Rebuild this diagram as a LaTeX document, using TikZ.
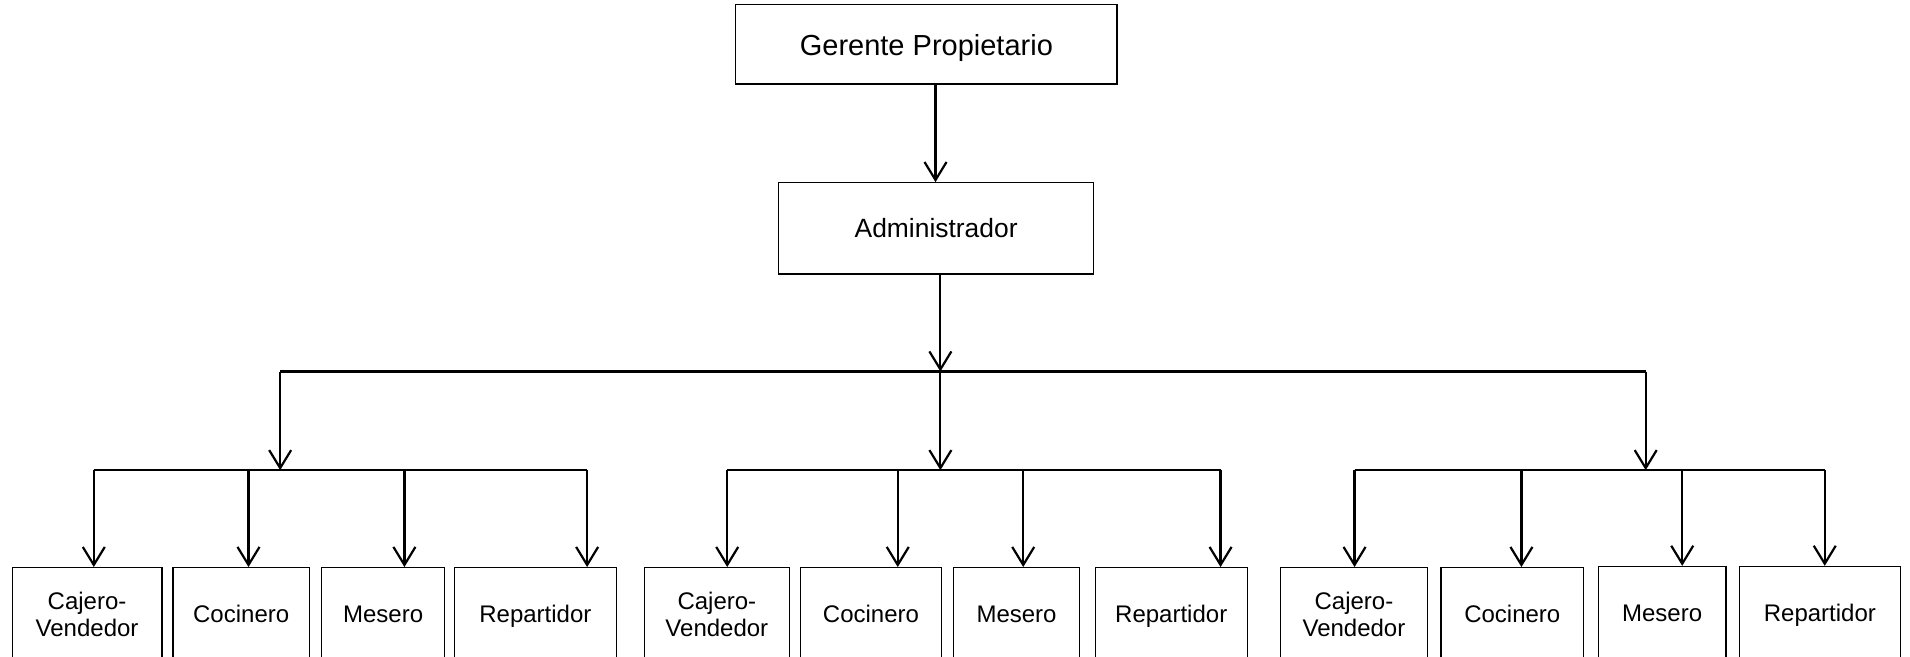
\documentclass[tikz,border=0pt]{standalone}
\usepackage{fontspec}
\setmainfont{Liberation Sans}
\usetikzlibrary{arrows.meta}
\def\ux{0.609pt}
\tikzset{
  x=0.609pt, y=-0.609pt,
  bx/.style={draw, line width=0.6pt, inner sep=0pt, align=center,
    minimum width=#1*\ux, minimum height=76*\ux,
    font=\fontsize{12}{13.5}\selectfont},
  one/.style={text height=11.6pt, text depth=3pt},
  link/.style={line width=1.1pt},
  arr/.style={line width=1.1pt, -{Straight Barb[length=9pt,width=11pt]}}
}
\begin{document}
\begin{tikzpicture}
\useasboundingbox (0,0) rectangle (1568,539);
\clip (0,0) rectangle (1568,539);
% top boxes
\node[draw, line width=0.6pt, minimum width=313*\ux, minimum height=65*\ux,
  text height=14.4pt, text depth=3pt,
  font=\fontsize{14.5}{16}\selectfont] (g) at (760.5,36.5) {Gerente Propietario};
\node[draw, line width=0.6pt, minimum width=259*\ux, minimum height=75*\ux,
  text height=12.45pt, text depth=3pt,
  font=\fontsize{13.2}{15}\selectfont] (a) at (768.5,187.5) {Administrador};
% bottom boxes
\node[bx=123] (cj1) at (71.5,504) {Cajero-\\Vendedor};
\node[bx=112, one] (co1) at (198,504) {Cocinero};
\node[bx=101, one] (me1) at (314.5,504) {Mesero};
\node[bx=133, one] (re1) at (439.5,504) {Repartidor};
\node[bx=119] (cj2) at (588.5,504) {Cajero-\\Vendedor};
\node[bx=116, one] (co2) at (715,504) {Cocinero};
\node[bx=103, one] (me2) at (834.5,504) {Mesero};
\node[bx=125, one] (re2) at (961.5,504) {Repartidor};
\node[bx=121] (cj3) at (1111.5,504) {Cajero-\\Vendedor};
\node[bx=117, one] (co3) at (1241.5,504) {Cocinero};
\node[bx=105, one] (me3) at (1364.5,503) {Mesero};
\node[bx=132, one] (re3) at (1494,503) {Repartidor};
% coordinates
\coordinate (ga) at (768,69);
\coordinate (j0) at (772,305);
\coordinate (jl) at (230,305);
\coordinate (jr) at (1351,305);
\coordinate (k1) at (230,386);
\coordinate (k2) at (772,386);
\coordinate (k3) at (1351,386);
\coordinate (t11) at (77,386);
\coordinate (t12) at (204,386);
\coordinate (t13) at (332,386);
\coordinate (t14) at (482,386);
\coordinate (t21) at (597,386);
\coordinate (t22) at (737,386);
\coordinate (t23) at (840,386);
\coordinate (t24) at (1002,386);
\coordinate (t31) at (1112,386);
\coordinate (t32) at (1249,386);
\coordinate (t33) at (1381,386);
\coordinate (t34) at (1498,386);
% connectors
\draw[arr] (ga |- g.south) -- (ga |- a.north);
\draw[arr] (j0 |- a.south) -- (j0);
\draw[link] (jl) -- (jr);
\draw[arr] (jl) -- (k1);
\draw[arr] (j0) -- (k2);
\draw[arr] (jr) -- (k3);
\draw[link] (t11) -- (t14);
\draw[link] (t21) -- (t24);
\draw[link] (t31) -- (t34);
\draw[arr] (t11) -- (t11 |- cj1.north);
\draw[arr] (t12) -- (t12 |- co1.north);
\draw[arr] (t13) -- (t13 |- me1.north);
\draw[arr] (t14) -- (t14 |- re1.north);
\draw[arr] (t21) -- (t21 |- cj2.north);
\draw[arr] (t22) -- (t22 |- co2.north);
\draw[arr] (t23) -- (t23 |- me2.north);
\draw[arr] (t24) -- (t24 |- re2.north);
\draw[arr] (t31) -- (t31 |- cj3.north);
\draw[arr] (t32) -- (t32 |- co3.north);
\draw[arr] (t33) -- (t33 |- me3.north);
\draw[arr] (t34) -- (t34 |- re3.north);
\end{tikzpicture}
\end{document}
